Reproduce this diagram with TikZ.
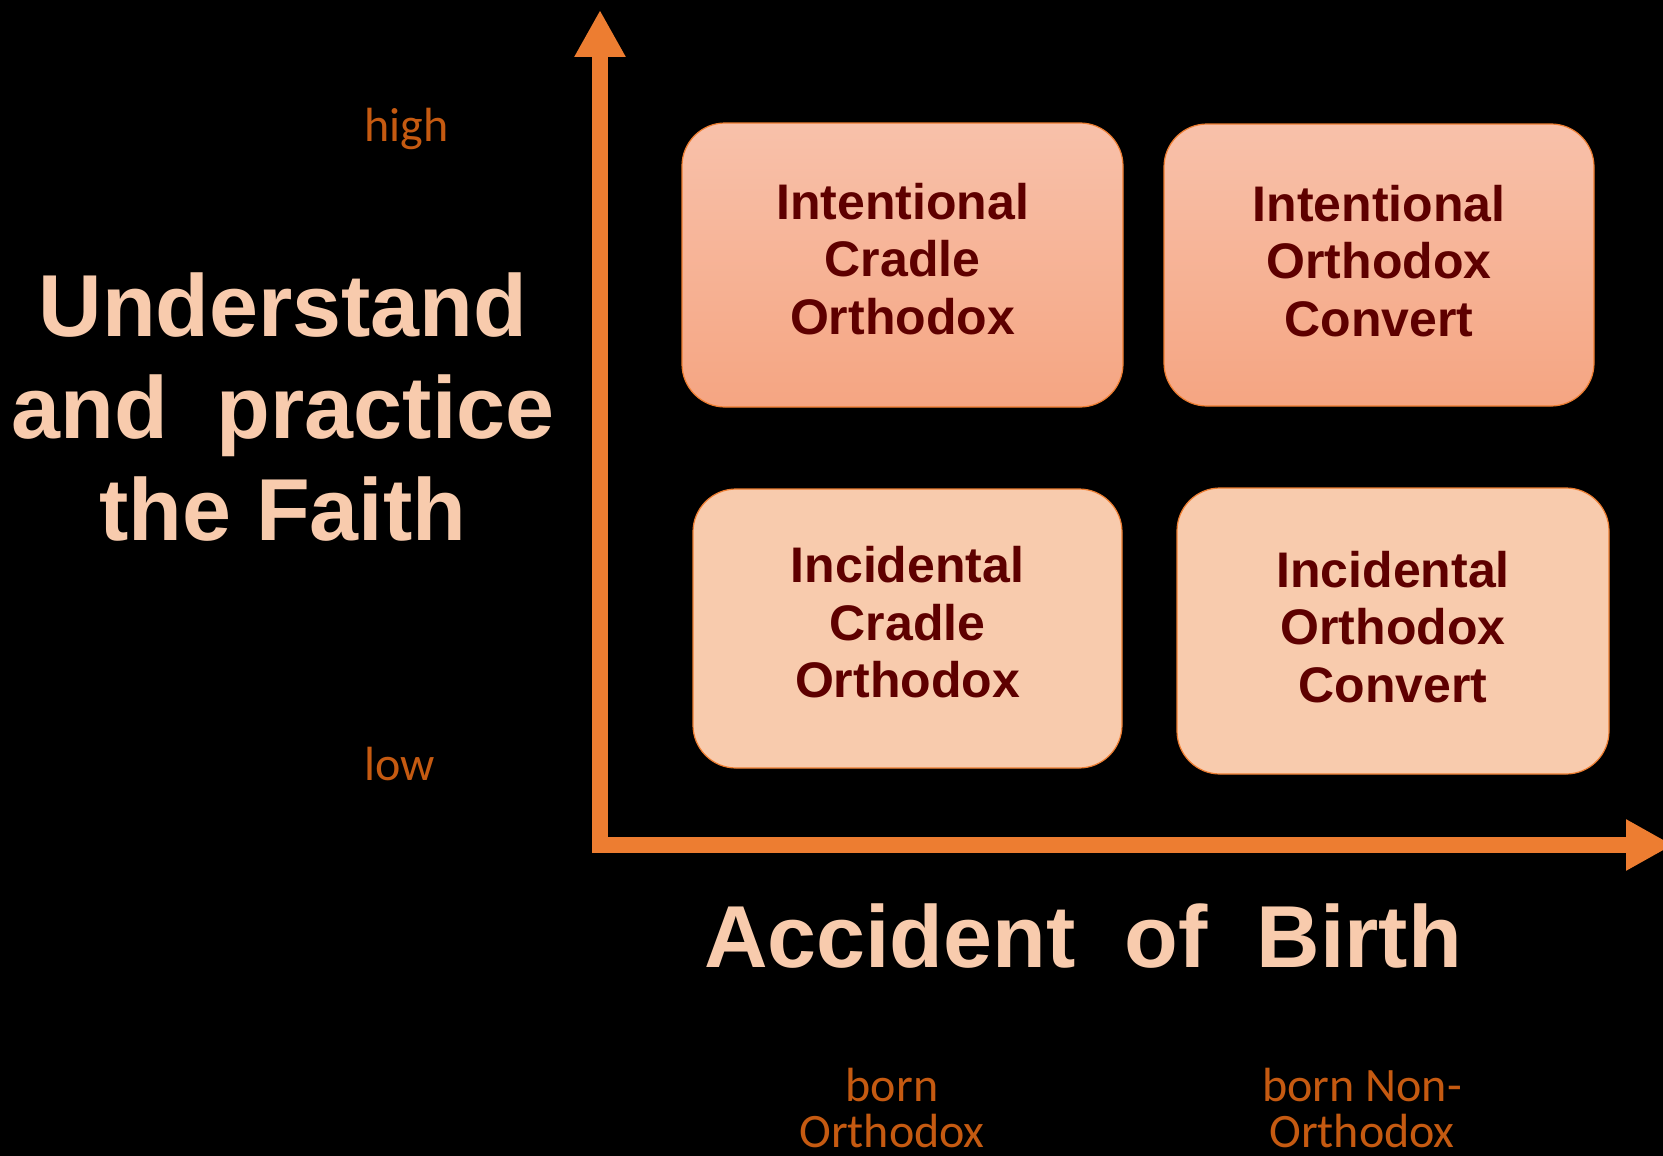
\documentclass[tikz,border=0pt]{standalone}
\usepackage{fontspec}
\setmainfont{Liberation Sans}
\newfontfamily\calib{Carlito}
\usetikzlibrary{arrows.meta}
\definecolor{axisor}{HTML}{ED7D31}
\definecolor{darkor}{HTML}{C55A11}
\definecolor{peach}{HTML}{F8CBAD}
\definecolor{toptop}{HTML}{F8C1AA}
\definecolor{topbot}{HTML}{F5A582}
\definecolor{boxtext}{HTML}{5E0000}
\tikzset{
  qbox/.style={draw=axisor, line width=1.2pt, rounded corners=43pt, inner sep=0pt},
  qtext/.style={text=boxtext, font=\fontsize{50}{57.5}\selectfont\bfseries, align=center, inner sep=0pt},
  bigtext/.style={text=peach, font=\fontsize{88}{102}\selectfont\bfseries, align=center, inner sep=0pt},
  smalltext/.style={text=darkor, font=\calib\fontsize{48}{46}\selectfont, align=center, inner sep=0pt},
  axisline/.style={draw=axisor, line width=16pt, -{Triangle[width=48pt,length=47pt]}}
}
\begin{document}
\begin{tikzpicture}[x=1pt,y=-1pt]
\fill[black] (0,0) rectangle (1663,1156);
\useasboundingbox (0,0) rectangle (1663,1156);

% axes
\coordinate (vbot) at (600,853);
\coordinate (vtop) at (600,10);
\coordinate (hleft) at (592,845);
\coordinate (hright) at (1673,845);
\draw[axisline] (vbot) -- (vtop);
\draw[axisline] (hleft) -- (hright);

% boxes
\node[qbox, top color=toptop, bottom color=topbot, minimum width=441pt, minimum height=284pt] (b1) at (902.5,265) {};
\node[qbox, top color=toptop, bottom color=topbot, minimum width=430pt, minimum height=282pt] (b2) at (1379,265) {};
\node[qbox, fill=peach, minimum width=429pt, minimum height=279pt] (b3) at (907.5,628.5) {};
\node[qbox, fill=peach, minimum width=432pt, minimum height=286pt] (b4) at (1393,631) {};

\node[qtext] (t1) at ([yshift=6pt]b1.center) {Intentional\\Cradle\\Orthodox};
\node[qtext] (t2) at ([yshift=4pt]b2.center) {Intentional\\Orthodox\\Convert};
\node[qtext] (t3) at ([yshift=6pt]b3.center) {Incidental\\Cradle\\Orthodox};
\node[qtext] (t4) at ([yshift=4pt]b4.center) {Incidental\\Orthodox\\Convert};

% axis titles
\node[bigtext] (ytitle) at (283,407.5) {Understand\\and\ \ practice\\the Faith};
\node[bigtext] (xtitle) at (1083,936.5) {Accident\ \ of\ \ Birth};

% scale labels
\node[smalltext, anchor=base west] (high) at (364,141) {high};
\node[smalltext, anchor=base west] (low) at (364,780) {low};
\node[smalltext] (bornO) at (892,1108) {born\\Orthodox};
\node[smalltext] (bornN) at (1362,1108) {born Non-\\Orthodox};
\end{tikzpicture}
\end{document}
